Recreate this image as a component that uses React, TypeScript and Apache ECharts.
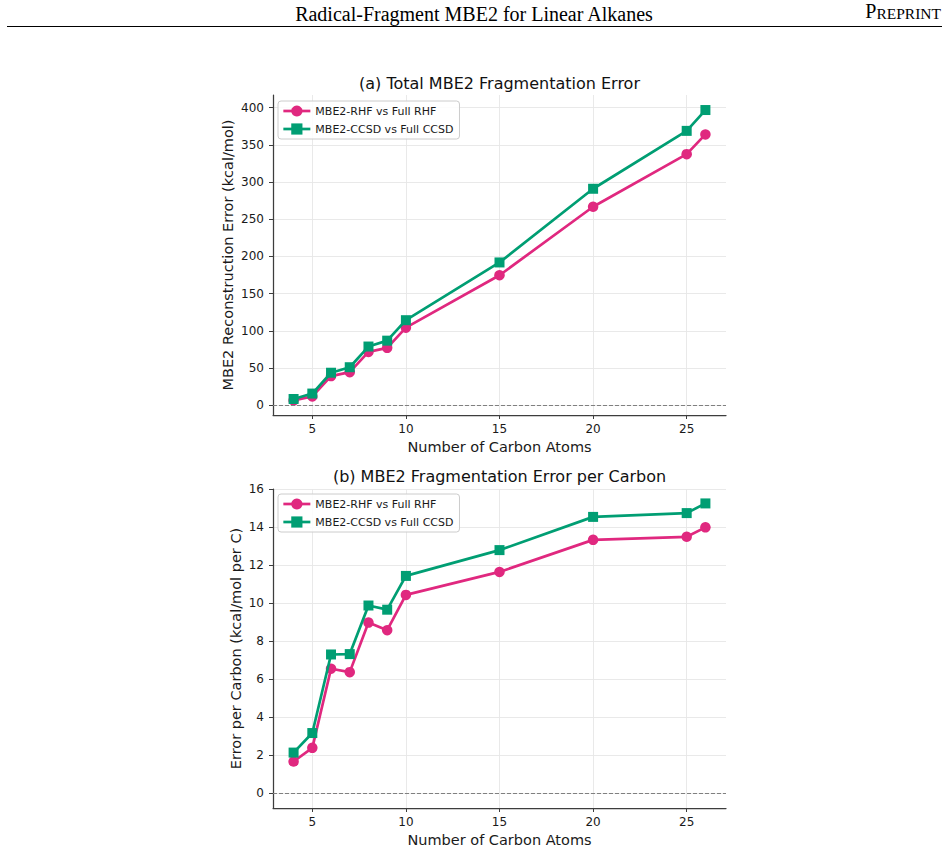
import React, { useEffect, useRef } from 'react';
import * as echarts from 'echarts';

// Linear alkane chain lengths (number of carbon atoms)
const carbonCounts = [4, 5, 6, 7, 8, 9, 10, 15, 20, 25, 26];

// Total MBE2 reconstruction error, kcal/mol
const totalRhf = [6.6, 12.0, 39.3, 44.6, 71.8, 77.2, 104.4, 174.8, 266.8, 337.5, 364.0];
const totalCcsd = [8.5, 15.8, 43.8, 51.2, 79.0, 86.9, 114.4, 192.0, 291.0, 368.8, 396.8];

// Error per carbon, kcal/mol per C
const perCarbonRhf = [1.66, 2.38, 6.55, 6.37, 8.98, 8.58, 10.44, 11.65, 13.34, 13.5, 14.0];
const perCarbonCcsd = [2.13, 3.16, 7.3, 7.32, 9.88, 9.66, 11.44, 12.8, 14.55, 14.75, 15.26];

// Tick positions
const xTicks = [5, 10, 15, 20, 25];
const totalTicks = [0, 50, 100, 150, 200, 250, 300, 350, 400];
const perCarbonTicks = [0, 2, 4, 6, 8, 10, 12, 14, 16];

const seriesNames = ['MBE2-RHF vs Full RHF', 'MBE2-CCSD vs Full CCSD'];
const panelTitles = ['(a) Total MBE2 Fragmentation Error', '(b) MBE2 Fragmentation Error per Carbon'];
const yAxisNames = ['MBE2 Reconstruction Error (kcal/mol)', 'Error per Carbon (kcal/mol per C)'];
const xAxisName = 'Number of Carbon Atoms';

const PINK = '#e0287f';
const GREEN = '#009e73';
const FONT = '"DejaVu Sans", sans-serif';
const SERIF = '"Liberation Serif", "Times New Roman", serif';
const SPINE = '#3d3d3d';
const GRIDLINE = '#e6e6e6';
const TEXT = '#1a1a1a';

function pairs(xs: number[], ys: number[]) {
  return xs.map((x, i) => [x, ys[i]]);
}

function makeXAxis(gridIndex: number) {
  return {
    type: 'value',
    gridIndex,
    min: 2.9,
    max: 27.1,
    name: xAxisName,
    nameLocation: 'middle',
    nameGap: 24,
    nameTextStyle: { fontFamily: FONT, fontSize: 14.5, color: TEXT },
    axisLine: { show: true, onZero: false, lineStyle: { color: SPINE, width: 1.25 } },
    axisTick: { show: true, inside: false, length: 4, customValues: xTicks, lineStyle: { color: SPINE, width: 1 } },
    axisLabel: { show: true, margin: 8, customValues: xTicks, fontFamily: FONT, fontSize: 12, color: TEXT },
    splitLine: { show: true, lineStyle: { color: GRIDLINE, width: 0.9 } },
  };
}

function makeYAxis(gridIndex: number, min: number, max: number, ticks: number[], name: string, nameGap: number) {
  return {
    type: 'value',
    gridIndex,
    min,
    max,
    name,
    nameLocation: 'middle',
    nameGap,
    nameTextStyle: { fontFamily: FONT, fontSize: 14.5, color: TEXT },
    axisLine: { show: true, onZero: false, lineStyle: { color: SPINE, width: 1.25 } },
    axisTick: { show: true, inside: false, length: 4, customValues: ticks, lineStyle: { color: SPINE, width: 1 } },
    axisLabel: { show: true, margin: 9, customValues: ticks, fontFamily: FONT, fontSize: 12, color: TEXT },
    splitLine: { show: true, lineStyle: { color: GRIDLINE, width: 0.9 } },
  };
}

const zeroLine = {
  silent: true,
  symbol: 'none',
  label: { show: false },
  lineStyle: { type: [4, 2], color: '#808080', width: 1 },
  data: [{ yAxis: 0 }],
};

function makeSeries(gridIndex: number, rhf: number[], ccsd: number[]) {
  return [
    {
      name: seriesNames[0],
      type: 'line',
      xAxisIndex: gridIndex,
      yAxisIndex: gridIndex,
      data: pairs(carbonCounts, rhf),
      symbol: 'circle',
      symbolSize: 10.5,
      showAllSymbol: true,
      lineStyle: { color: PINK, width: 2.7 },
      itemStyle: { color: PINK },
      markLine: zeroLine,
      z: 3,
    },
    {
      name: seriesNames[1],
      type: 'line',
      xAxisIndex: gridIndex,
      yAxisIndex: gridIndex,
      data: pairs(carbonCounts, ccsd),
      symbol: 'rect',
      symbolSize: 10,
      showAllSymbol: true,
      lineStyle: { color: GREEN, width: 2.7 },
      itemStyle: { color: GREEN },
      z: 4,
    },
  ];
}

function makeLegend(top: number) {
  return {
    orient: 'vertical',
    left: 278,
    top,
    itemWidth: 27,
    itemHeight: 14,
    itemGap: 4,
    padding: [3, 6, 3, 4],
    backgroundColor: 'rgba(255,255,255,0.85)',
    borderColor: '#cccccc',
    borderWidth: 1,
    borderRadius: 3,
    lineStyle: { width: 2.7 },
    textStyle: { fontFamily: FONT, fontSize: 11, color: TEXT, lineHeight: 14 },
    data: seriesNames,
  };
}

export default function App() {
  const ref = useRef<HTMLDivElement>(null);

  useEffect(() => {
    if (!ref.current) return;
    const chart = echarts.init(ref.current, null, { renderer: 'svg' });

    chart.setOption({
      animation: false,
      backgroundColor: '#ffffff',
      textStyle: { fontFamily: FONT },
      grid: [
        { left: 273, top: 95, width: 453, height: 320 },
        { left: 273, top: 489, width: 453, height: 319 },
      ],
      xAxis: [makeXAxis(0), makeXAxis(1)],
      yAxis: [
        makeYAxis(0, -13, 417, totalTicks, yAxisNames[0], 38),
        makeYAxis(1, -0.79, 16.02, perCarbonTicks, yAxisNames[1], 30),
      ],
      legend: [makeLegend(101), makeLegend(494)],
      series: [
        ...makeSeries(0, totalRhf, totalCcsd),
        ...makeSeries(1, perCarbonRhf, perCarbonCcsd),
      ],
      graphic: [
        {
          type: 'text',
          x: 474,
          y: 14,
          style: {
            text: 'Radical-Fragment MBE2 for Linear Alkanes',
            font: `20px ${SERIF}`,
            fill: '#000',
            align: 'center',
            verticalAlign: 'middle',
          },
        },
        {
          type: 'text',
          x: 941,
          y: 21,
          style: {
            text: '{p|P}{r|REPRINT}',
            fill: '#000',
            align: 'right',
            verticalAlign: 'bottom',
            rich: {
              p: { fontFamily: SERIF, fontSize: 20, verticalAlign: 'bottom', fill: '#000' },
              r: { fontFamily: SERIF, fontSize: 15.5, verticalAlign: 'bottom', fill: '#000' },
            },
          },
        },
        {
          type: 'line',
          shape: { x1: 7, y1: 26.5, x2: 942, y2: 26.5 },
          style: { stroke: '#000', lineWidth: 1.2 },
        },
        {
          type: 'text',
          x: 499.5,
          y: 83,
          style: {
            text: panelTitles[0],
            font: `16px ${FONT}`,
            fill: '#111',
            align: 'center',
            verticalAlign: 'middle',
          },
        },
        {
          type: 'text',
          x: 499.5,
          y: 476,
          style: {
            text: panelTitles[1],
            font: `16px ${FONT}`,
            fill: '#111',
            align: 'center',
            verticalAlign: 'middle',
          },
        },
      ],
    });

    return () => chart.dispose();
  }, []);

  return (
    <div
      ref={ref}
      style={{ position: 'absolute', left: 0, top: 0, width: 948, height: 851 }}
    />
  );
}
